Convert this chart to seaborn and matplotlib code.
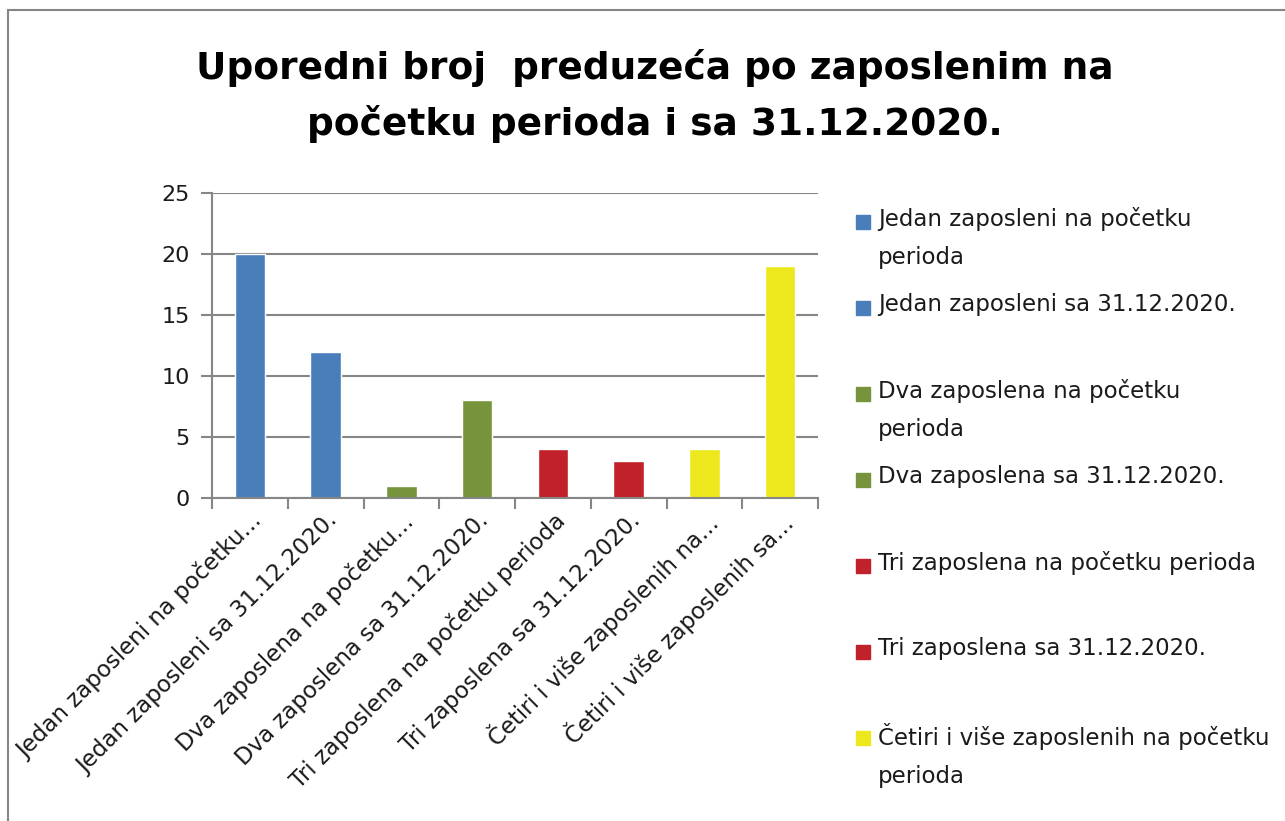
import matplotlib

matplotlib.use("Agg")

import matplotlib.pyplot as plt
import seaborn as sns
from matplotlib.patches import Rectangle

# Data
categories = [
    "Jedan zaposleni na početku perioda",
    "Jedan zaposleni sa 31.12.2020.",
    "Dva zaposlena na početku perioda",
    "Dva zaposlena sa 31.12.2020.",
    "Tri zaposlena na početku perioda",
    "Tri zaposlena sa 31.12.2020.",
    "Četiri i više zaposlenih na početku perioda",
    "Četiri i više zaposlenih sa 31.12.2020.",
]
tick_labels = [
    "Jedan zaposleni na početku...",
    "Jedan zaposleni sa 31.12.2020.",
    "Dva zaposlena na početku...",
    "Dva zaposlena sa 31.12.2020.",
    "Tri zaposlena na početku perioda",
    "Tri zaposlena sa 31.12.2020.",
    "Četiri i više zaposlenih na...",
    "Četiri i više zaposlenih sa...",
]
legend_labels = [
    "Jedan zaposleni na početku\nperioda",
    "Jedan zaposleni sa 31.12.2020.",
    "Dva zaposlena na početku\nperioda",
    "Dva zaposlena sa 31.12.2020.",
    "Tri zaposlena na početku perioda",
    "Tri zaposlena sa 31.12.2020.",
    "Četiri i više zaposlenih na početku\nperioda",
]
values = [20, 12, 1, 8, 4, 3, 4, 19]
bar_colors = ["#4A7EBB", "#4A7EBB", "#77933C", "#77933C",
              "#C0212A", "#C0212A", "#EDE81E", "#EDE81E"]
title = "Uporedni broj  preduzeća po zaposlenim na\npočetku perioda i sa 31.12.2020."

sns.set_theme(style="white")
plt.rcParams["font.family"] = ["DejaVu Sans"]
grid_color = "#868686"
text_color = "#1a1a1a"

W, H = 1285, 821
fig = plt.figure(figsize=(W / 100, H / 100), dpi=100)
ax = fig.add_axes([212 / W, 1 - 498 / H, (818 - 212) / W, (498 - 193) / H])

sns.barplot(x=categories, y=values, hue=categories, palette=bar_colors,
            width=0.4, saturation=1, legend=False, ax=ax)

ax.set_xlim(-0.5, len(categories) - 0.5)
ax.set_ylim(0, 25)
ax.set_yticks(range(0, 26, 5))
ax.yaxis.grid(True, color=grid_color, linewidth=1.5)
ax.set_axisbelow(True)
ax.set_xlabel("")
ax.set_ylabel("")

ax.set_xticks(range(len(categories)))
ax.set_xticklabels(tick_labels, rotation=45, ha="right",
                   rotation_mode="anchor", fontsize=16.5, color=text_color)
ax.set_xticks([i - 0.5 for i in range(len(categories) + 1)], minor=True)
ax.tick_params(axis="x", which="major", length=0, pad=8)
ax.tick_params(axis="x", which="minor", length=8, width=1.5,
               color=grid_color, direction="out", bottom=True)
ax.tick_params(axis="y", length=8, width=1.5, color=grid_color,
               direction="out", left=True, labelsize=16, pad=8,
               labelcolor=text_color)

for side in ["top", "right"]:
    ax.spines[side].set_visible(False)
for side in ["left", "bottom"]:
    ax.spines[side].set_color(grid_color)
    ax.spines[side].set_linewidth(1.5)

# Legend drawn by hand, Excel style (the last entry falls below the frame)
for i, (lab, col) in enumerate(zip(legend_labels, bar_colors)):
    yc = 1 - (222 + 86 * i) / H
    fig.patches.append(Rectangle((856 / W, yc - 7 / H), 14 / W, 14 / H,
                                 transform=fig.transFigure, color=col))
    fig.text(878 / W, yc + 15 / H, lab, ha="left", va="top", fontsize=16.5,
             color=text_color, linespacing=1.83)

fig.text(655 / W, 1 - 96 / H, title, ha="center", va="center",
         fontsize=27, fontweight="bold", linespacing=1.58, color="black")

# Outer chart border
fig.patches.append(Rectangle((8 / W, -0.1), 1.2, 1.1 - 10 / H,
                             transform=fig.transFigure, fill=False,
                             edgecolor=grid_color, linewidth=1.5))

fig.savefig("out.png", dpi=100)
